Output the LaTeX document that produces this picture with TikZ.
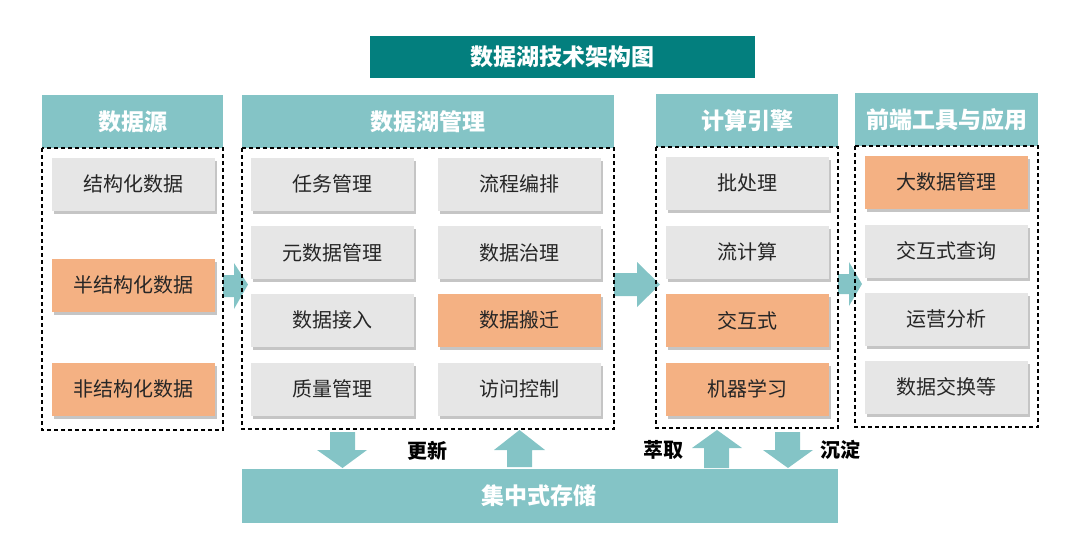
\documentclass[tikz,border=0pt]{standalone}
\usepackage{fontspec}
\setmainfont{Noto Sans CJK SC}
\usetikzlibrary{shadows}
\definecolor{tealdark}{HTML}{037F7E}
\definecolor{teallight}{HTML}{84C4C6}
\definecolor{orangeitem}{HTML}{F4B183}
\definecolor{grayitem}{HTML}{E6E6E6}
\definecolor{itemtext}{HTML}{262626}
\tikzset{
  hdr/.style={fill=teallight, draw=none, text=white, font=\bfseries\fontsize{23}{26}\selectfont, inner sep=0pt},
  titlebox/.style={fill=tealdark, draw=none, text=white, font=\bfseries\fontsize{23}{26}\selectfont, minimum width=385pt, minimum height=42pt, inner sep=0pt},
  itembase/.style={draw=none, minimum width=163pt, minimum height=53pt, inner sep=0pt, text=itemtext, font=\fontsize{20}{24}\selectfont,
    drop shadow={shadow xshift=2pt, shadow yshift=-3pt, fill=black!45, opacity=0.5}},
  gitem/.style={itembase, fill=grayitem},
  oitem/.style={itembase, fill=orangeitem},
  dashbox/.style={draw=black, dashed, line width=1.1pt, dash pattern=on 4pt off 3pt},
  blockarrow/.style={fill=teallight, draw=none},
  lbl/.style={text=black, font=\bfseries\fontsize{20}{24}\selectfont, inner sep=0pt},
}
\begin{document}
\begin{tikzpicture}[x=1pt, y=-1pt]
\useasboundingbox (0,0) rectangle (1080,558);
% title
\node[titlebox] (title) at (562.5,57) {数据湖技术架构图};
% block arrows (horizontal)
\fill[blockarrow] (223,275) -- (234,275) -- (234,263) -- (248,284.5) -- (234,309) -- (234,297) -- (223,297) -- cycle;
\fill[blockarrow] (614,273) -- (637,273) -- (637,262) -- (660,284.5) -- (637,307) -- (637,296) -- (614,296) -- cycle;
\fill[blockarrow] (838,274) -- (849,274) -- (849,262) -- (862,284) -- (849,306) -- (849,294) -- (838,294) -- cycle;
% headers
\node[hdr, minimum width=181pt, minimum height=53pt] (h1) at (132.5,121.5) {数据源};
\node[hdr, minimum width=372pt, minimum height=53pt] (h2) at (428,121.5) {数据湖管理};
\node[hdr, minimum width=182pt, minimum height=53pt] (h3) at (747,120.5) {计算引擎};
\node[hdr, minimum width=183pt, minimum height=53pt] (h4) at (946.5,119.5) {前端工具与应用};
% dashed containers
\draw[dashbox] (42,148) rectangle (223,430);
\draw[dashbox] (242,148) rectangle (614,429);
\draw[dashbox] (656,147) rectangle (838,428);
\draw[dashbox] (855,146) rectangle (1038,427);
% column 1
\node[gitem] (a1) at (133.5,184) {结构化数据};
\node[oitem] (a2) at (133.5,285) {半结构化数据};
\node[oitem] (a3) at (133.5,389) {非结构化数据};
% column 2
\node[gitem] (b1) at (332.5,184) {任务管理};
\node[gitem] (b2) at (519.5,184) {流程编排};
\node[gitem] (b3) at (332.5,252.5) {元数据管理};
\node[gitem] (b4) at (519.5,252.5) {数据治理};
\node[gitem] (b5) at (332.5,320) {数据接入};
\node[oitem] (b6) at (519.5,320) {数据搬迁};
\node[gitem] (b7) at (332.5,389) {质量管理};
\node[gitem] (b8) at (519.5,389) {访问控制};
% column 3
\node[gitem] (c1) at (747.5,183) {批处理};
\node[gitem] (c2) at (747.5,252) {流计算};
\node[oitem] (c3) at (747.5,320.5) {交互式};
\node[oitem] (c4) at (747.5,389) {机器学习};
% column 4
\node[oitem] (d1) at (946.5,182) {大数据管理};
\node[gitem] (d2) at (946.5,251) {交互式查询};
\node[gitem] (d3) at (946.5,319) {运营分析};
\node[gitem] (d4) at (946.5,387) {数据交换等};
% bottom storage
\node[fill=teallight, minimum width=596pt, minimum height=54pt, inner sep=0pt] (store) at (540,496) {};
\node[text=white, font=\bfseries\fontsize{23}{26}\selectfont, inner sep=0pt] (storetext) at (539,496) {集中式存储};
% vertical block arrows
\fill[blockarrow] (330,432) -- (355,432) -- (355,450) -- (367,450) -- (342.5,468) -- (317,450) -- (330,450) -- cycle;
\fill[blockarrow] (507,467) -- (532,467) -- (532,450) -- (545,450) -- (519.5,430) -- (494,450) -- (507,450) -- cycle;
\fill[blockarrow] (704,468) -- (729,468) -- (729,448) -- (742,448) -- (717,430) -- (692,448) -- (704,448) -- cycle;
\fill[blockarrow] (775,432) -- (800,432) -- (800,450) -- (813,450) -- (788,468) -- (763,450) -- (775,450) -- cycle;
% labels
\node[lbl] (l1) at (427,451) {更新};
\node[lbl] (l2) at (663,450) {萃取};
\node[lbl] (l3) at (840,450) {沉淀};
\end{tikzpicture}
\end{document}
